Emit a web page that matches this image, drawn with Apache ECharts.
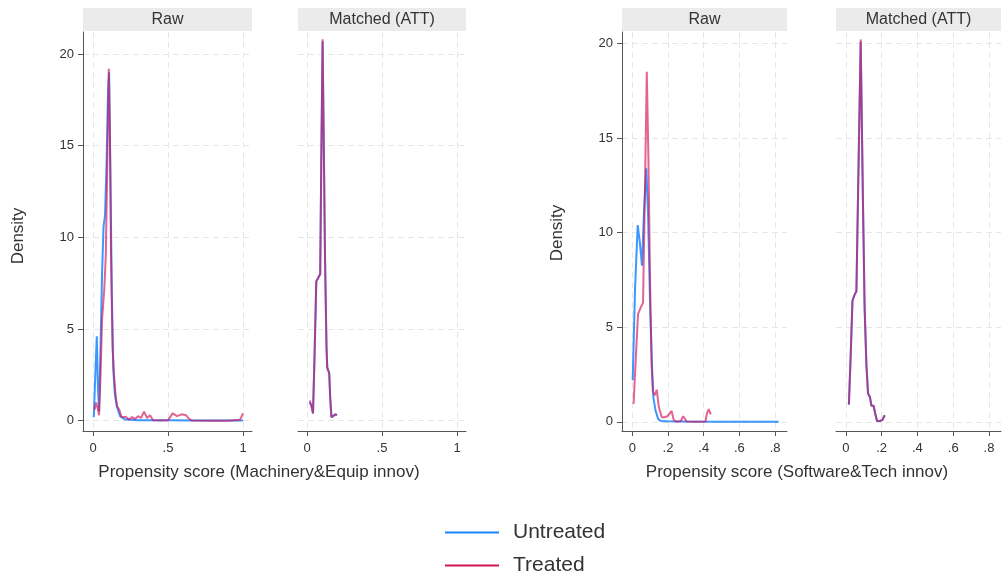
<!DOCTYPE html>
<html>
<head>
<meta charset="utf-8">
<script src="https://cdn.jsdelivr.net/npm/echarts@6/dist/echarts.min.js"></script>
<style>
html,body{margin:0;padding:0;background:#fff;}
#chart{width:1004px;height:580px;}
</style>
</head>
<body>
<div id="chart"></div>
<script>
// ---------- data ----------
const panelTitles = ['Raw', 'Matched (ATT)'];
const xTitleMach = 'Propensity score (Machinery&Equip innov)';
const xTitleSoft = 'Propensity score (Software&Tech innov)';
const yTitle = 'Density';
const legendNames = ['Untreated', 'Treated'];
const xTicksMach = [0, 0.5, 1];
const xTicksSoft = [0, 0.2, 0.4, 0.6, 0.8];
const yTicks = [0, 5, 10, 15, 20];

const machRawUntreated = [[0.005,0.2],[0.015,2.5],[0.025,4.6],[0.032,2.0],[0.04,0.5],[0.05,4.0],[0.06,8.0],[0.07,10.6],[0.08,11.2],[0.09,14.0],[0.1,18.0],[0.107,19.0],[0.115,14.0],[0.125,7.0],[0.135,2.8],[0.145,1.5],[0.158,0.8],[0.18,0.25],[0.21,0.08],[0.3,0.03],[0.5,0.02],[0.7,0.01],[1.0,0.01]];
const machRawTreated = [[0.01,0.6],[0.02,1.0],[0.03,0.7],[0.04,0.3],[0.05,2.5],[0.06,5.5],[0.075,7.2],[0.085,9.0],[0.095,14.0],[0.105,19.2],[0.112,16.0],[0.12,9.0],[0.13,4.0],[0.14,2.5],[0.15,1.4],[0.16,0.8],[0.175,0.6],[0.19,0.2],[0.2,0.1],[0.22,0.2],[0.24,0.05],[0.26,0.2],[0.28,0.1],[0.3,0.25],[0.32,0.15],[0.34,0.5],[0.36,0.15],[0.38,0.3],[0.4,0.02],[0.45,0.01],[0.5,0.02],[0.53,0.4],[0.56,0.25],[0.59,0.35],[0.62,0.3],[0.64,0.1],[0.66,0.01],[0.8,0.0],[0.9,0.0],[0.98,0.05],[1.0,0.4]];
const machMatchedUntreated = [[0.018,1.0],[0.03,0.8],[0.04,0.4],[0.05,3.4],[0.062,7.6],[0.075,7.8],[0.088,8.0],[0.095,14.0],[0.104,20.7],[0.112,15.0],[0.12,9.0],[0.13,4.0],[0.135,2.9],[0.148,2.6],[0.155,1.2],[0.163,0.2],[0.175,0.25],[0.19,0.35],[0.2,0.3]];
const machMatchedTreated = [[0.018,1.1],[0.03,0.8],[0.04,0.4],[0.05,3.5],[0.062,7.6],[0.075,7.8],[0.088,8.0],[0.095,14.0],[0.104,20.8],[0.112,15.0],[0.12,9.0],[0.13,4.0],[0.135,2.9],[0.148,2.6],[0.155,1.2],[0.163,0.2],[0.175,0.25],[0.19,0.35],[0.2,0.3]];
const softRawUntreated = [[0.002,2.2],[0.015,7.0],[0.03,10.4],[0.042,9.5],[0.054,8.25],[0.065,11.0],[0.078,13.4],[0.088,11.0],[0.1,6.0],[0.11,3.0],[0.118,1.3],[0.13,0.6],[0.145,0.15],[0.16,0.05],[0.2,0.03],[0.3,0.02],[0.5,0.01],[0.7,0.01],[0.82,0.01]];
const softRawTreated = [[0.007,0.95],[0.02,3.5],[0.032,5.7],[0.045,6.0],[0.06,6.3],[0.07,12.0],[0.081,18.5],[0.09,14.0],[0.1,7.0],[0.108,3.0],[0.115,1.6],[0.125,1.4],[0.137,1.7],[0.148,0.8],[0.165,0.25],[0.18,0.25],[0.196,0.3],[0.21,0.45],[0.22,0.58],[0.232,0.1],[0.245,0.02],[0.27,0.02],[0.285,0.3],[0.295,0.3],[0.305,0.02],[0.35,0.01],[0.41,0.02],[0.418,0.45],[0.428,0.67],[0.44,0.4]];
const softMatchedUntreated = [[0.017,0.9],[0.027,3.5],[0.037,6.4],[0.048,6.7],[0.059,6.9],[0.07,13.0],[0.083,20.1],[0.095,12.0],[0.105,6.0],[0.115,3.0],[0.124,1.5],[0.135,1.3],[0.143,0.85],[0.155,0.85],[0.165,0.4],[0.174,0.05],[0.19,0.05],[0.204,0.1],[0.217,0.35]];
const softMatchedTreated = [[0.017,0.94],[0.027,3.5],[0.037,6.4],[0.048,6.7],[0.059,6.9],[0.07,13.0],[0.083,20.2],[0.095,12.0],[0.105,6.0],[0.115,3.0],[0.124,1.5],[0.135,1.3],[0.143,0.85],[0.155,0.85],[0.165,0.4],[0.174,0.05],[0.19,0.05],[0.204,0.1],[0.217,0.35]];

// ---------- styling / layout ----------
const FONT = '"Liberation Sans", Arial, sans-serif';
const BLUE = '#1a85ff';
const MAGENTA = '#d41159';
const TXT = '#333333';
const AXIS = '#555555';

const panels = [
  {left: 83,  width: 169, xmin: -0.067, xmax: 1.06,  ymin: -0.56, ymax: 21.2, ticks: xTicksMach, showY: true,  u: machRawUntreated,     t: machRawTreated,     title: panelTitles[0]},
  {left: 298, width: 168, xmin: -0.06,  xmax: 1.06,  ymin: -0.56, ymax: 21.2, ticks: xTicksMach, showY: false, u: machMatchedUntreated, t: machMatchedTreated, title: panelTitles[1]},
  {left: 622, width: 165, xmin: -0.058, xmax: 0.867, ymin: -0.48, ymax: 20.6, ticks: xTicksSoft, showY: true,  u: softRawUntreated,     t: softRawTreated,     title: panelTitles[0]},
  {left: 836, width: 165, xmin: -0.055, xmax: 0.867, ymin: -0.48, ymax: 20.6, ticks: xTicksSoft, showY: false, u: softMatchedUntreated, t: softMatchedTreated, title: panelTitles[1]}
];
const TOP = 32, HEIGHT = 399;

const fmt = v => (v === 0 ? '0' : String(+v.toFixed(3)).replace(/^0\./, '.'));
const gridLine = {show: true, lineStyle: {color: '#e6e6e6', width: 1, type: [6, 4]}};

const grid = [], xAxis = [], yAxis = [], series = [], graphic = [];
panels.forEach((p, i) => {
  grid.push({left: p.left, top: TOP, width: p.width, height: HEIGHT, containLabel: false});
  xAxis.push({
    type: 'value', gridIndex: i, min: p.xmin, max: p.xmax,
    axisLine: {show: true, onZero: false, lineStyle: {color: AXIS, width: 1}},
    axisTick: {show: true, length: 5, lineStyle: {color: AXIS}, customValues: p.ticks},
    axisLabel: {show: true, customValues: p.ticks, formatter: fmt, fontFamily: FONT, fontSize: 13, color: TXT, margin: 11},
    splitLine: gridLine
  });
  yAxis.push({
    type: 'value', gridIndex: i, min: p.ymin, max: p.ymax,
    axisLine: {show: p.showY, onZero: false, lineStyle: {color: AXIS, width: 1}},
    axisTick: {show: p.showY, length: 5, lineStyle: {color: AXIS}, customValues: yTicks},
    axisLabel: {show: p.showY, customValues: yTicks, fontFamily: FONT, fontSize: 13, color: TXT, margin: 9},
    splitLine: gridLine
  });
  series.push({
    name: legendNames[0], type: 'line', xAxisIndex: i, yAxisIndex: i, data: p.u,
    symbol: 'none', smooth: false, color: BLUE,
    lineStyle: {color: BLUE, width: 2, opacity: 0.85}, z: 3, silent: true, animation: false
  });
  series.push({
    name: legendNames[1], type: 'line', xAxisIndex: i, yAxisIndex: i, data: p.t,
    symbol: 'none', smooth: false, color: MAGENTA,
    lineStyle: {color: MAGENTA, width: 2, opacity: 0.65}, z: 4, silent: true, animation: false
  });
  // strip header
  graphic.push({type: 'rect', shape: {x: p.left, y: 8, width: p.width, height: 23}, style: {fill: '#ebebeb'}, silent: true});
  graphic.push({type: 'text', x: p.left + p.width / 2, y: 19.5, style: {text: p.title, font: '16px ' + FONT, fill: TXT, align: 'center', verticalAlign: 'middle'}, silent: true});
});

// axis titles
graphic.push({type: 'text', x: 259, y: 472, style: {text: xTitleMach, font: '17px ' + FONT, fill: TXT, align: 'center', verticalAlign: 'middle'}, silent: true});
graphic.push({type: 'text', x: 797, y: 472, style: {text: xTitleSoft, font: '17px ' + FONT, fill: TXT, align: 'center', verticalAlign: 'middle'}, silent: true});
graphic.push({type: 'text', x: 18, y: 236, rotation: Math.PI / 2, style: {text: yTitle, font: '17px ' + FONT, fill: TXT, align: 'center', verticalAlign: 'middle'}, silent: true});
graphic.push({type: 'text', x: 557, y: 233, rotation: Math.PI / 2, style: {text: yTitle, font: '17px ' + FONT, fill: TXT, align: 'center', verticalAlign: 'middle'}, silent: true});

const legendBase = {
  orient: 'vertical', left: 445, padding: 0,
  icon: 'rect', itemWidth: 54, itemHeight: 2,
  itemStyle: {opacity: 1},
  textStyle: {fontFamily: FONT, fontSize: 21, color: TXT, padding: [0, 0, 0, 9]},
  selectedMode: false
};

const chart = echarts.init(document.getElementById('chart'), null, {renderer: 'canvas'});
chart.setOption({
  animation: false,
  backgroundColor: '#ffffff',
  grid, xAxis, yAxis, series, graphic,
  legend: [
    Object.assign({}, legendBase, {data: [legendNames[0]], top: 522}),
    Object.assign({}, legendBase, {data: [legendNames[1]], top: 555})
  ]
});
</script>
</body>
</html>
